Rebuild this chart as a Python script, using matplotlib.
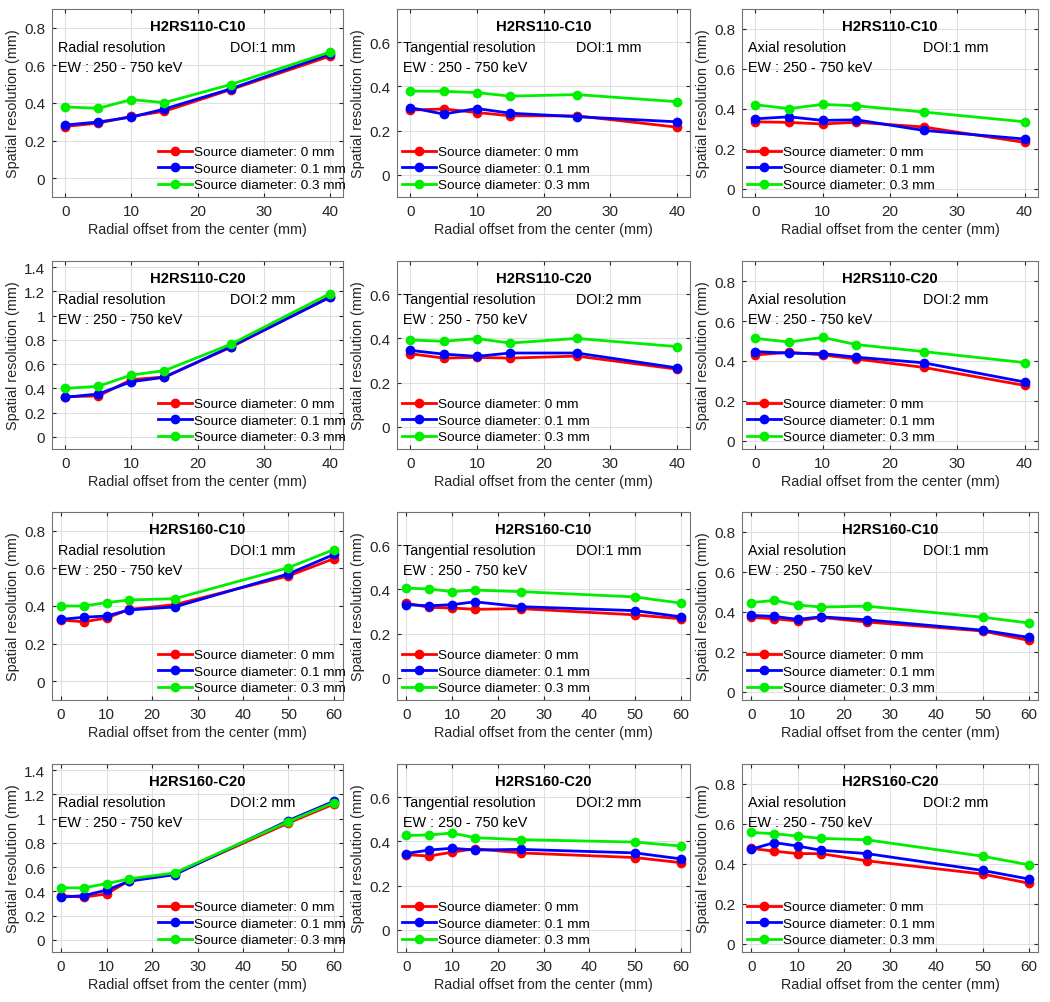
import matplotlib
matplotlib.use("Agg")
import matplotlib.pyplot as plt
from matplotlib.ticker import FuncFormatter

plt.rcParams["font.family"] = ["Liberation Sans", "DejaVu Sans"]

RED, BLUE, GREEN = "#ff0000", "#0000ff", "#00ee00"

# radial offsets (mm)
x110 = [0, 5, 10, 15, 25, 40]
x160 = [0, 5, 10, 15, 25, 50, 60]

diam_labels = ["Source diameter: 0 mm", "Source diameter: 0.1 mm", "Source diameter: 0.3 mm"]

# --- H2RS110-C10 (DOI 1 mm) ---
rad_110c10_d0 = [0.275, 0.293, 0.329, 0.356, 0.471, 0.649]
rad_110c10_d1 = [0.283, 0.299, 0.325, 0.368, 0.475, 0.660]
rad_110c10_d3 = [0.379, 0.372, 0.418, 0.402, 0.498, 0.670]
tan_110c10_d0 = [0.293, 0.298, 0.282, 0.267, 0.267, 0.216]
tan_110c10_d1 = [0.304, 0.275, 0.300, 0.279, 0.263, 0.240]
tan_110c10_d3 = [0.379, 0.378, 0.372, 0.356, 0.363, 0.331]
axi_110c10_d0 = [0.336, 0.333, 0.325, 0.334, 0.310, 0.233]
axi_110c10_d1 = [0.351, 0.361, 0.343, 0.346, 0.293, 0.250]
axi_110c10_d3 = [0.421, 0.402, 0.423, 0.416, 0.385, 0.336]

# --- H2RS110-C20 (DOI 2 mm) ---
rad_110c20_d0 = [0.332, 0.337, 0.472, 0.494, 0.738, 1.155]
rad_110c20_d1 = [0.326, 0.354, 0.455, 0.491, 0.743, 1.150]
rad_110c20_d3 = [0.400, 0.417, 0.510, 0.546, 0.763, 1.180]
tan_110c20_d0 = [0.331, 0.311, 0.314, 0.311, 0.320, 0.261]
tan_110c20_d1 = [0.346, 0.329, 0.319, 0.334, 0.334, 0.267]
tan_110c20_d3 = [0.393, 0.387, 0.399, 0.379, 0.400, 0.363]
axi_110c20_d0 = [0.430, 0.444, 0.430, 0.410, 0.368, 0.278]
axi_110c20_d1 = [0.447, 0.439, 0.437, 0.419, 0.391, 0.295]
axi_110c20_d3 = [0.513, 0.495, 0.518, 0.482, 0.447, 0.392]

# --- H2RS160-C10 (DOI 1 mm) ---
rad_160c10_d0 = [0.325, 0.316, 0.336, 0.382, 0.407, 0.560, 0.652]
rad_160c10_d1 = [0.329, 0.340, 0.347, 0.379, 0.395, 0.571, 0.674]
rad_160c10_d3 = [0.400, 0.400, 0.418, 0.432, 0.439, 0.604, 0.700]
tan_160c10_d0 = [0.338, 0.319, 0.316, 0.310, 0.313, 0.285, 0.267]
tan_160c10_d1 = [0.331, 0.326, 0.331, 0.344, 0.322, 0.304, 0.276]
tan_160c10_d3 = [0.406, 0.402, 0.390, 0.397, 0.390, 0.366, 0.338]
axi_160c10_d0 = [0.373, 0.366, 0.355, 0.373, 0.350, 0.305, 0.258]
axi_160c10_d1 = [0.383, 0.378, 0.363, 0.376, 0.361, 0.309, 0.273]
axi_160c10_d3 = [0.447, 0.458, 0.435, 0.425, 0.429, 0.374, 0.345]

# --- H2RS160-C20 (DOI 2 mm) ---
rad_160c20_d0 = [0.365, 0.352, 0.379, 0.489, 0.544, 0.964, 1.120]
rad_160c20_d1 = [0.352, 0.365, 0.410, 0.484, 0.538, 0.984, 1.143]
rad_160c20_d3 = [0.429, 0.429, 0.464, 0.503, 0.552, 0.975, 1.132]
tan_160c20_d0 = [0.340, 0.334, 0.351, 0.367, 0.348, 0.327, 0.304]
tan_160c20_d1 = [0.345, 0.361, 0.369, 0.361, 0.364, 0.348, 0.321]
tan_160c20_d3 = [0.427, 0.429, 0.438, 0.417, 0.408, 0.397, 0.379]
axi_160c20_d0 = [0.478, 0.464, 0.452, 0.452, 0.416, 0.350, 0.304]
axi_160c20_d1 = [0.474, 0.507, 0.490, 0.469, 0.452, 0.368, 0.325]
axi_160c20_d3 = [0.558, 0.551, 0.540, 0.528, 0.521, 0.439, 0.396]

rows = [
    ("H2RS110-C10", "DOI:1 mm", x110,
     [rad_110c10_d0, rad_110c10_d1, rad_110c10_d3],
     [tan_110c10_d0, tan_110c10_d1, tan_110c10_d3],
     [axi_110c10_d0, axi_110c10_d1, axi_110c10_d3]),
    ("H2RS110-C20", "DOI:2 mm", x110,
     [rad_110c20_d0, rad_110c20_d1, rad_110c20_d3],
     [tan_110c20_d0, tan_110c20_d1, tan_110c20_d3],
     [axi_110c20_d0, axi_110c20_d1, axi_110c20_d3]),
    ("H2RS160-C10", "DOI:1 mm", x160,
     [rad_160c10_d0, rad_160c10_d1, rad_160c10_d3],
     [tan_160c10_d0, tan_160c10_d1, tan_160c10_d3],
     [axi_160c10_d0, axi_160c10_d1, axi_160c10_d3]),
    ("H2RS160-C20", "DOI:2 mm", x160,
     [rad_160c20_d0, rad_160c20_d1, rad_160c20_d3],
     [tan_160c20_d0, tan_160c20_d1, tan_160c20_d3],
     [axi_160c20_d0, axi_160c20_d1, axi_160c20_d3]),
]

kinds = ["Radial resolution", "Tangential resolution", "Axial resolution"]

W, H = 1050, 1003
fig = plt.figure(figsize=(W / 100, H / 100), dpi=100)

col_left = [52, 397, 742]
col_width = [291, 293, 296]
row_top = [10, 262, 513, 765]
ax_h = 188

TXT = "#262626"


def fmt_g(v, pos):
    return f"{v:g}"


for r, (name, doi, xs, rad, tan, axi) in enumerate(rows):
    for c, series in enumerate([rad, tan, axi]):
        ax = fig.add_axes([col_left[c] / W, 1 - (row_top[r] + ax_h) / H,
                           col_width[c] / W, ax_h / H])
        for ys, col, lab in zip(series, [RED, BLUE, GREEN], diam_labels):
            ax.plot(xs, ys, "-o", color=col, lw=2.0, ms=6, label=lab)

        xmax = xs[-1]
        ax.set_xlim(-2, xmax + 2)
        ax.set_xticks(range(0, xmax + 1, 10))
        if c == 0:
            if "C20" in name:
                ax.set_ylim(-0.1, 1.45)
                ax.set_yticks([0, 0.2, 0.4, 0.6, 0.8, 1.0, 1.2, 1.4])
            else:
                ax.set_ylim(-0.1, 0.9)
                ax.set_yticks([0, 0.2, 0.4, 0.6, 0.8])
        elif c == 1:
            ax.set_ylim(-0.1, 0.75)
            ax.set_yticks([0, 0.2, 0.4, 0.6])
        else:
            ax.set_ylim(-0.04, 0.9)
            ax.set_yticks([0, 0.2, 0.4, 0.6, 0.8])
        ax.yaxis.set_major_formatter(FuncFormatter(fmt_g))

        ax.grid(True, color="0.88", lw=0.8)
        ax.set_axisbelow(True)
        ax.tick_params(direction="in", top=True, right=True, length=3,
                       labelsize=11, colors=TXT, pad=5)
        for s in ax.spines.values():
            s.set_color("0.45")
            s.set_linewidth(0.8)

        ax.set_xlabel("Radial offset from the center (mm)", fontsize=10.4, color=TXT, labelpad=3)
        ax.set_ylabel("Spatial resolution (mm)", fontsize=10.4, color=TXT, labelpad=3)

        ax.text(0.5, 0.91, name, transform=ax.transAxes, ha="center", va="center",
                fontsize=10.7, fontweight="bold", color="black")
        ax.text(0.02, 0.80, kinds[c], transform=ax.transAxes, ha="left", va="center",
                fontsize=10.4, color="black")
        ax.text(0.61, 0.80, doi, transform=ax.transAxes, ha="left", va="center",
                fontsize=10.4, color="black")
        ax.text(0.02, 0.69, "EW : 250 - 750 keV", transform=ax.transAxes, ha="left",
                va="center", fontsize=10.4, color="black")

        x0 = 0.364 if c == 0 else 0.017
        ax.legend(loc="lower left", bbox_to_anchor=(x0, 0.03), frameon=False,
                  fontsize=9.7, handlelength=2.5, handletextpad=0.2,
                  labelspacing=0.3, borderaxespad=0, borderpad=0)

fig.savefig("out.png", dpi=100)
